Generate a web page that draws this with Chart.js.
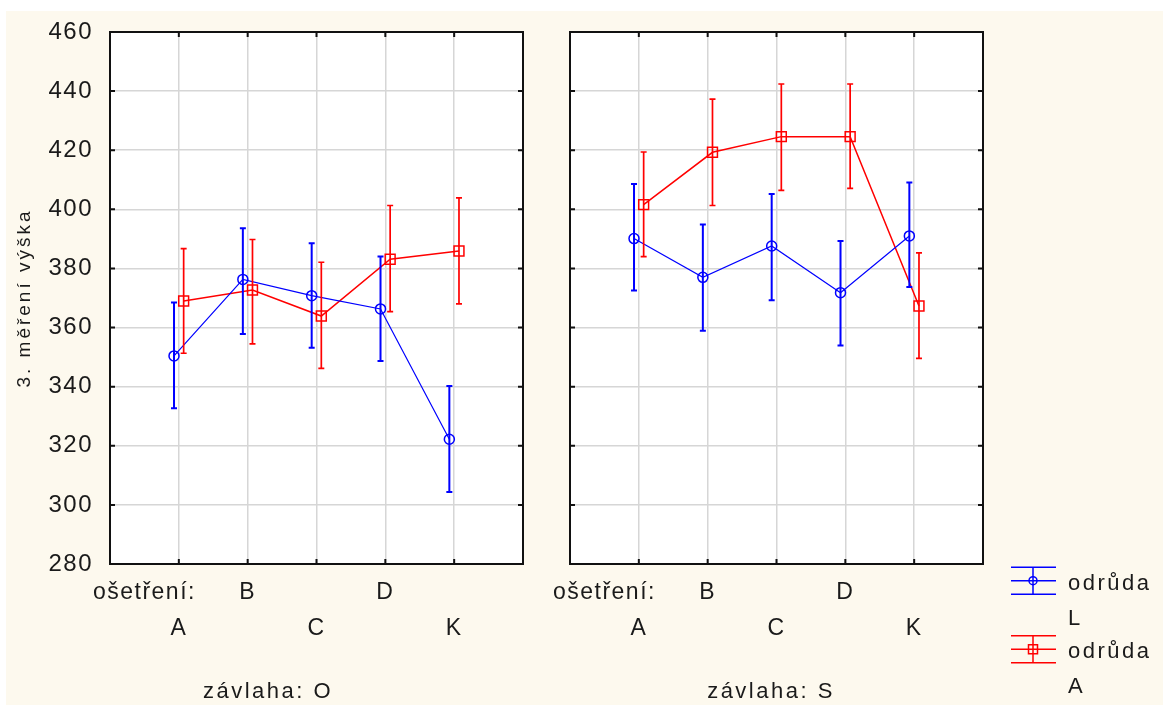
<!DOCTYPE html>
<html>
<head>
<meta charset="utf-8">
<script src="https://cdn.jsdelivr.net/npm/chart.js@4"></script>
<style>
  html, body { margin: 0; padding: 0; background: #fff; }
  body { width: 1163px; height: 706px; position: relative; overflow: hidden; }
  #bg { position: absolute; left: 6px; top: 11px; right: 0; bottom: 1px; background: #fdf9ee; }
  canvas { position: absolute; top: 0; }
  #left { left: 0; }
  #right { left: 540px; }
</style>
</head>
<body>
<div id="bg"></div>
<canvas id="left" width="540" height="706"></canvas>
<canvas id="right" width="623" height="706"></canvas>
<script>
const categories = ["A", "B", "C", "D", "K"];
const seriesNames = ["odrůda L", "odrůda A"];

// závlaha: O
const oL = [350.4, 376.3, 370.8, 366.3, 322.2];
const oLLow = [332.7, 357.8, 353.2, 348.7, 304.4];
const oLHigh = [368.5, 393.6, 388.5, 384.0, 340.2];
const oA = [369.0, 372.7, 363.9, 383.1, 385.9];
const oALow = [351.3, 354.5, 346.2, 365.4, 368.0];
const oAHigh = [386.7, 389.8, 382.1, 401.3, 403.9];

// závlaha: S
const sL = [390.1, 377.0, 387.6, 371.8, 391.0];
const sLLow = [372.5, 358.9, 369.2, 353.9, 373.7];
const sLHigh = [408.6, 394.9, 405.2, 389.3, 409.1];
const sA = [401.6, 419.3, 424.6, 424.6, 367.3];
const sALow = [384.0, 401.3, 406.4, 407.1, 349.6];
const sAHigh = [419.4, 437.3, 442.4, 442.4, 385.3];

const FONT = "'Liberation Sans', Arial, sans-serif";
const TEXT = "#1a1a1a";
const GRID = "#d6d6d6";
const BLUE = "#0000ff";
const RED = "#ff0000";

Chart.defaults.font.family = FONT;

function tickLabel(v) {
  if (v === 0.5) return "ošetření:";
  const i = v - 1;
  const name = categories[i];
  if (name === undefined) return "";
  return i % 2 === 0 ? ["", name] : [name, ""];
}

function makeSeries(label, values, low, high, color, shift, style) {
  return {
    label,
    data: values.map((v, i) => ({ x: i + 1 + shift, y: v })),
    low,
    high,
    showLine: true,
    tension: 0,
    borderColor: color,
    borderWidth: style === "circle" ? 1.2 : 1.5,
    pointStyle: style,
    pointRadius: style === "circle" ? 5 : 7,
    pointBorderWidth: 1.5,
    pointBorderColor: color,
    pointBackgroundColor: "rgba(0,0,0,0)",
    errColor: color,
    errWidth: style === "circle" ? 2 : 1.7,
  };
}

function drawText(ctx, text, x, y, size, spacing, align) {
  ctx.save();
  ctx.font = size + "px " + FONT;
  ctx.letterSpacing = spacing + "px";
  ctx.fillStyle = TEXT;
  ctx.textAlign = align || "left";
  ctx.textBaseline = "alphabetic";
  ctx.fillText(text, x, y);
  ctx.restore();
}

function legendItem(ctx, x, yMid, color, style, line1, line2) {
  ctx.save();
  ctx.strokeStyle = color;
  ctx.lineWidth = 1.5;
  ctx.beginPath();
  [-13.5, 0, 13.5].forEach((d) => {
    ctx.moveTo(x, yMid + d);
    ctx.lineTo(x + 45, yMid + d);
  });
  ctx.moveTo(x + 22, yMid - 13.5);
  ctx.lineTo(x + 22, yMid + 13.5);
  ctx.stroke();
  ctx.beginPath();
  if (style === "circle") ctx.arc(x + 22, yMid, 4, 0, Math.PI * 2);
  else ctx.rect(x + 17.5, yMid - 4.5, 9, 9);
  ctx.stroke();
  ctx.restore();
  drawText(ctx, line1, x + 57, yMid + 9, 22, 2.5);
  drawText(ctx, line2, x + 57, yMid + 44, 22, 2.5);
}

const framePlugin = {
  id: "frame",
  beforeDraw(chart) {
    const { ctx, chartArea: a } = chart;
    ctx.save();
    ctx.fillStyle = "#fff";
    ctx.fillRect(a.left, a.top, a.right - a.left, a.bottom - a.top);
    ctx.restore();
    ctx.letterSpacing = "1.5px";
  },
  afterDatasetsDraw(chart) {
    const { ctx } = chart;
    const yScale = chart.scales.y;
    chart.data.datasets.forEach((ds, i) => {
      const meta = chart.getDatasetMeta(i);
      ctx.save();
      ctx.strokeStyle = ds.errColor;
      ctx.lineWidth = ds.errWidth;
      meta.data.forEach((pt, j) => {
        const top = yScale.getPixelForValue(ds.high[j]);
        const bot = yScale.getPixelForValue(ds.low[j]);
        ctx.beginPath();
        ctx.moveTo(pt.x, top);
        ctx.lineTo(pt.x, bot);
        ctx.moveTo(pt.x - 3, top);
        ctx.lineTo(pt.x + 3, top);
        ctx.moveTo(pt.x - 3, bot);
        ctx.lineTo(pt.x + 3, bot);
        ctx.stroke();
      });
      ctx.restore();
    });
  },
  afterDraw(chart) {
    const { ctx, chartArea: a } = chart;
    const opts = chart.options.plugins.frame;
    ctx.save();
    ctx.strokeStyle = "#111";
    ctx.lineWidth = 2;
    ctx.strokeRect(a.left, a.top, a.right - a.left, a.bottom - a.top);
    ctx.beginPath();
    chart.scales.y.ticks.forEach((t) => {
      const y = chart.scales.y.getPixelForValue(t.value);
      ctx.moveTo(a.left, y);
      ctx.lineTo(a.left + 5, y);
      ctx.moveTo(a.right - 5, y);
      ctx.lineTo(a.right, y);
    });
    chart.scales.x.ticks.forEach((t) => {
      if (t.value === 0.5) return;
      const x = chart.scales.x.getPixelForValue(t.value);
      ctx.moveTo(x, a.top);
      ctx.lineTo(x, a.top + 5);
      ctx.moveTo(x, a.bottom - 5);
      ctx.lineTo(x, a.bottom);
    });
    ctx.stroke();
    ctx.restore();

    drawText(ctx, opts.title, opts.titleX, 698, 22, 2.5, "center");

    if (opts.yTitle) {
      ctx.save();
      ctx.translate(25, (a.top + a.bottom) / 2);
      ctx.rotate(-Math.PI / 2);
      ctx.font = "19px " + FONT;
      ctx.letterSpacing = "3px";
      ctx.fillStyle = TEXT;
      ctx.textAlign = "center";
      ctx.textBaseline = "middle";
      ctx.fillText(opts.yTitle, 0, 0);
      ctx.restore();
    }

    if (opts.legend) {
      legendItem(ctx, 471, 580.7, BLUE, "circle", "odrůda", "L");
      legendItem(ctx, 471, 649.3, RED, "rect", "odrůda", "A");
    }
  },
};

function makeChart(id, cfg) {
  return new Chart(document.getElementById(id), {
    type: "scatter",
    data: {
      datasets: [
        makeSeries(seriesNames[0], cfg.L, cfg.LLow, cfg.LHigh, BLUE, -0.07, "circle"),
        makeSeries(seriesNames[1], cfg.A, cfg.ALow, cfg.AHigh, RED, 0.07, "rect"),
      ],
    },
    options: {
      responsive: false,
      animation: false,
      events: [],
      layout: { padding: { left: 0, right: cfg.padRight, top: 32, bottom: 0 } },
      plugins: {
        legend: { display: false },
        tooltip: { enabled: false },
        frame: { title: cfg.title, titleX: cfg.titleX, yTitle: cfg.yTitle, legend: cfg.legend },
      },
      scales: {
        x: {
          type: "linear",
          min: 0,
          max: 6,
          afterBuildTicks: (s) => {
            s.ticks = [0.5, 1, 2, 3, 4, 5].map((v) => ({ value: v }));
          },
          afterFit: (s) => { s.height = 142; },
          ticks: {
            autoSkip: false,
            maxRotation: 0,
            padding: 11,
            color: TEXT,
            font: { size: 23, lineHeight: 1.55 },
            callback: (v) => tickLabel(v),
          },
          grid: {
            color: (c) => (c.tick && c.tick.value === 0.5 ? "rgba(0,0,0,0)" : GRID),
            lineWidth: 1.5,
            drawTicks: false,
          },
          border: { display: false },
        },
        y: {
          min: 280,
          max: 460,
          afterFit: (s) => { s.width = cfg.axisWidth; },
          ticks: {
            display: cfg.showYTicks,
            stepSize: 20,
            padding: 17,
            color: TEXT,
            font: { size: 24 },
          },
          grid: { color: GRID, lineWidth: 1.5, drawTicks: false },
          border: { display: false },
        },
      },
    },
    plugins: [framePlugin],
  });
}

makeChart("left", {
  L: oL, LLow: oLLow, LHigh: oLHigh,
  A: oA, ALow: oALow, AHigh: oAHigh,
  title: "závlaha: O", titleX: 268,
  yTitle: "3. měření výška",
  axisWidth: 110, padRight: 17, showYTicks: true, legend: false,
});

makeChart("right", {
  L: sL, LLow: sLLow, LHigh: sLHigh,
  A: sA, ALow: sALow, AHigh: sAHigh,
  title: "závlaha: S", titleX: 231,
  yTitle: null,
  axisWidth: 30, padRight: 180, showYTicks: false, legend: true,
});
</script>
</body>
</html>
